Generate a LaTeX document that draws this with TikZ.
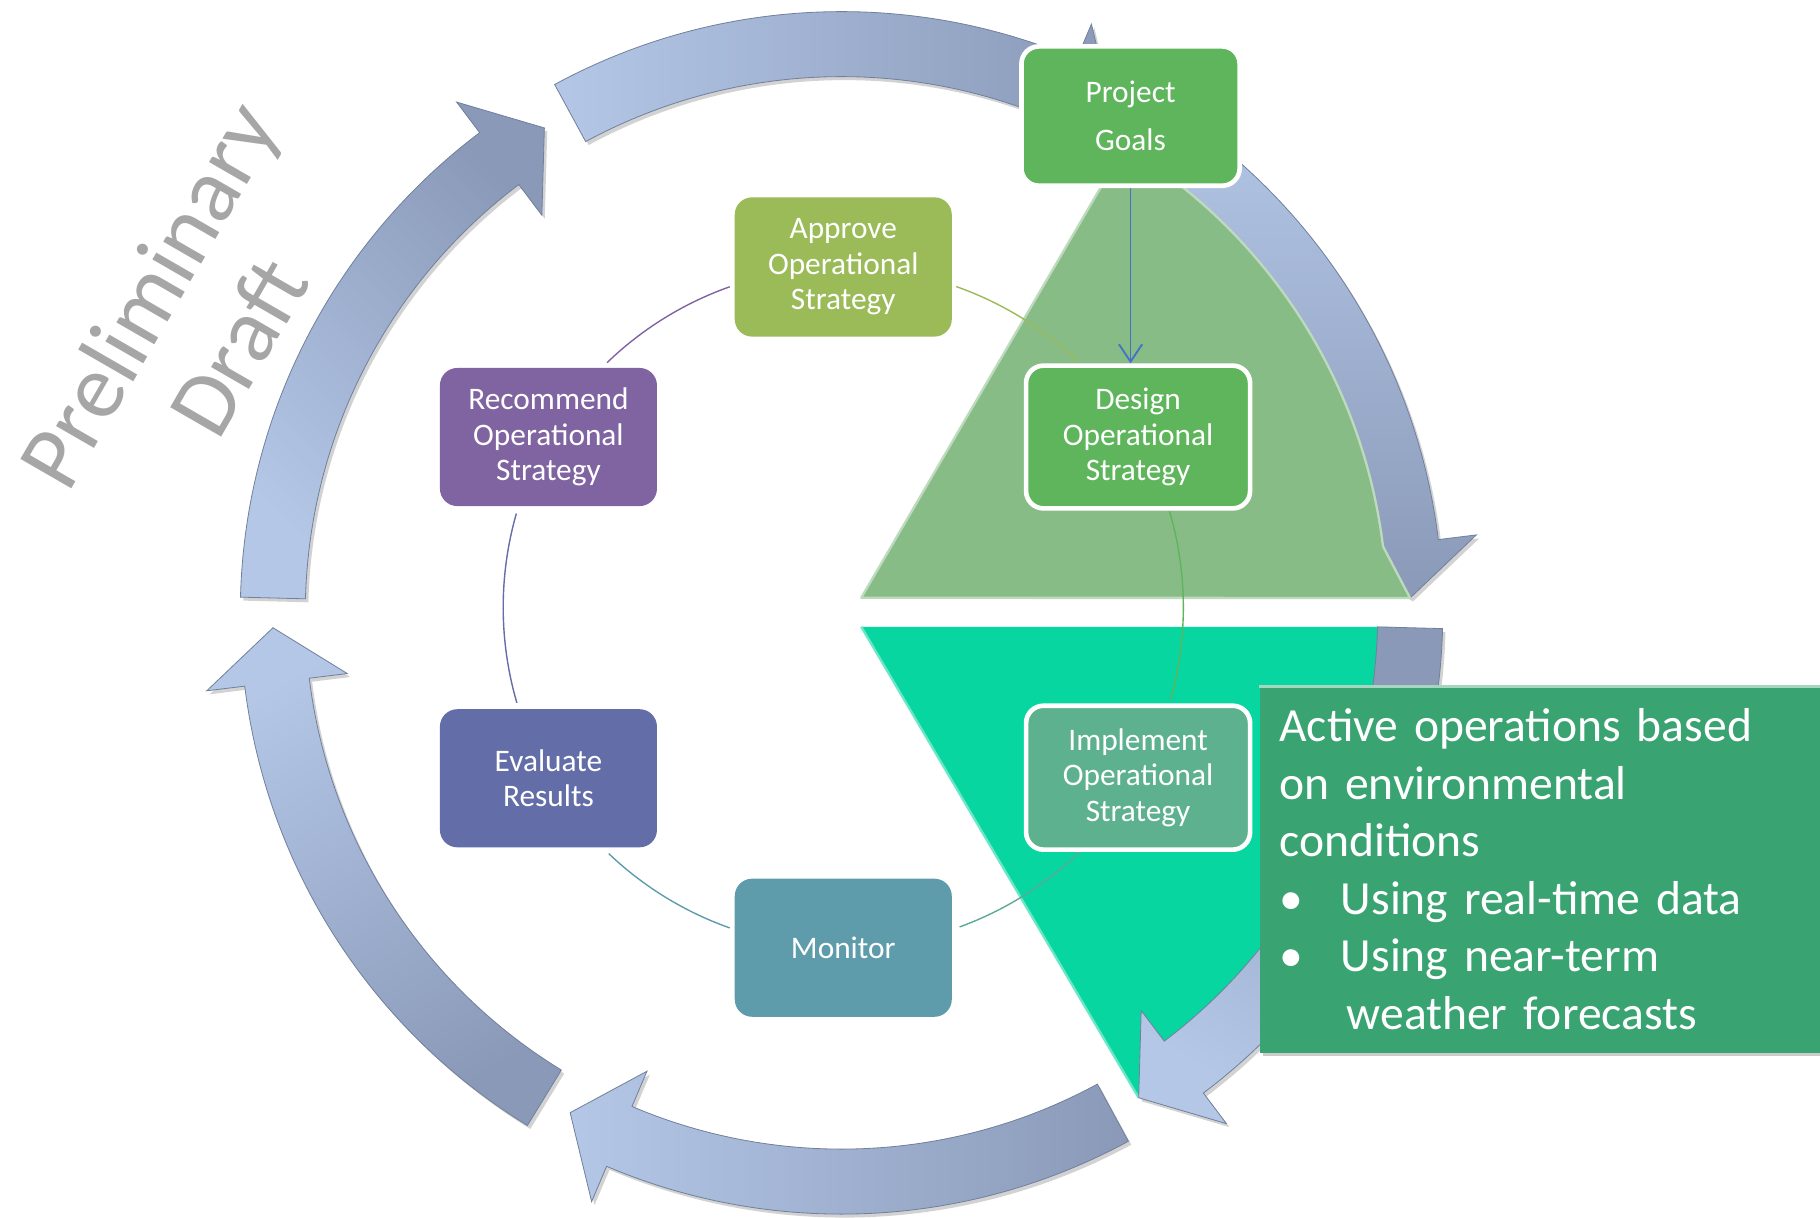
\documentclass[tikz,border=0pt]{standalone}
\usepackage{fontspec}
\setmainfont{Carlito}
\usetikzlibrary{arrows.meta,shadows}
\pgfdeclarelayer{ring}
\pgfdeclarelayer{links}
\pgfsetlayers{ring,links,main}

\definecolor{arrowlight}{HTML}{B4C7E7}
\definecolor{arrowdark}{HTML}{8A99B8}
\definecolor{arrowedge}{HTML}{71809C}
\definecolor{goalgreen}{HTML}{5EB55B}
\definecolor{implgreen}{HTML}{5EB18F}
\definecolor{approvecol}{HTML}{9BBB59}
\definecolor{recommendcol}{HTML}{8064A2}
\definecolor{evalcol}{HTML}{636EA9}
\definecolor{monitorcol}{HTML}{5E9CAC}
\definecolor{impllink}{HTML}{5BAA98}
\definecolor{trigreen}{HTML}{87BC87}
\definecolor{triteal}{HTML}{07D6A0}
\definecolor{notegreen}{HTML}{3AA372}
\definecolor{draftgray}{HTML}{A6A6A6}
\definecolor{goalline}{HTML}{4472C4}

\newcommand{\RingArrow}[3]{%
  \pgfmathsetmacro{\hbase}{#2+5.5}%
  \path[ringarrow,#3] (#1:462pt) arc[start angle=#1, end angle=\hbase, radius=462pt]
    -- (\hbase:429pt) -- (#2:490pt) -- (\hbase:551pt) -- (\hbase:518pt)
    arc[start angle=\hbase, end angle=#1, radius=518pt] -- cycle;%
}

\begin{document}
\begin{tikzpicture}[x=1pt,y=1pt,
  box/.style={rounded corners=15pt, text=white, align=center,
    font=\fontsize{27}{30.5}\selectfont, inner sep=0pt},
  wbox/.style={box, draw=white, line width=4pt},
  ringarrow/.style={top color=arrowdark, bottom color=arrowlight,
    draw=arrowedge, line width=0.7pt,
    drop shadow={shadow xshift=2.5pt, shadow yshift=-3pt, opacity=0.35}},
  link/.style={line width=1.2pt},
  notebox/.style={fill=notegreen, text=white, align=left,
    font=\fontsize{41}{49.5}\selectfont,
    drop shadow={shadow xshift=3pt, shadow yshift=-3pt, opacity=0.4}}]

\useasboundingbox (0,0) rectangle (1568,-1049);

% watermark
\node[rotate=60, text=draftgray, align=center,
  font=\fontsize{79}{90}\selectfont] (draft) at (166,-276) {Preliminary\\Draft};

% process boxes
\node[wbox, fill=goalgreen, minimum width=188pt, minimum height=120pt,
  font=\fontsize{27}{41}\selectfont] (goals) at (974,-100) {Project\\Goals};
\node[wbox, fill=goalgreen, minimum width=193pt, minimum height=123pt]
  (design) at (980.5,-376.5) {Design\\Operational\\Strategy};
\node[wbox, fill=implgreen, minimum width=193pt, minimum height=124pt]
  (implement) at (980.5,-670) {Implement\\Operational\\Strategy};
\node[box, fill=approvecol, minimum width=187pt, minimum height=120pt]
  (approve) at (726.5,-230) {Approve\\Operational\\Strategy};
\node[box, fill=recommendcol, minimum width=187pt, minimum height=119pt]
  (recommend) at (472.5,-376.5) {Recommend\\Operational\\Strategy};
\node[box, fill=evalcol, minimum width=187pt, minimum height=119pt]
  (evaluate) at (472.5,-670.5) {Evaluate\\Results};
\node[box, fill=monitorcol, minimum width=187pt, minimum height=119pt]
  (monitor) at (726.5,-816.5) {Monitor};

% note box
\node[notebox, anchor=north west, text width=449pt, inner xsep=17pt,
  inner ysep=0pt, minimum height=317pt] (note) at (1085,-590)
  {Active operations based\\on environmental\\conditions\\
   \makebox[53pt][l]{•}Using real-time data\\
   \makebox[53pt][l]{•}Using near-term\\
   \hspace*{58pt}weather forecasts};
\draw[notegreen!45!white, line width=2.5pt]
  ([yshift=-1.3pt]note.north west) -- ([yshift=-1.3pt]note.north east);

% connectors: arcs of the circle through the box centres
\coordinate (hub) at (726.5,-523.25);
\coordinate (appout) at ([shift={(70.6:293pt)}]hub);
\coordinate (desout) at ([shift={(16.4:293pt)}]hub);
\coordinate (impout) at ([shift={(-46:293pt)}]hub);
\coordinate (monout) at ([shift={(-109.5:293pt)}]hub);
\coordinate (evaout) at ([shift={(-163.7:293pt)}]hub);
\coordinate (recout) at ([shift={(134:293pt)}]hub);
\begin{pgfonlayer}{links}
  \draw[link, approvecol] (appout) arc[start angle=70.6, end angle=46.5, radius=293pt];
  \draw[link, goalgreen] (desout) arc[start angle=16.4, end angle=-15.7, radius=293pt];
  \draw[link, impllink] (impout) arc[start angle=-46, end angle=-70, radius=293pt];
  \draw[link, monitorcol] (monout) arc[start angle=-109.5, end angle=-133.6, radius=293pt];
  \draw[link, evalcol] (evaout) arc[start angle=-163.7, end angle=-196, radius=293pt];
  \draw[link, recommendcol] (recout) arc[start angle=134, end angle=109.5, radius=293pt];
  \draw[goalline, line width=1.6pt, -{Straight Barb[length=15pt,width=20pt]}]
    (goals.south) -- (goals.south |- design.north);
\end{pgfonlayer}

% ring, triangles
\begin{pgfonlayer}{ring}
\fill[white] (0,0) rectangle (1568,-1049);
\begin{scope}[shift={(725,-528)}]
  % teal wedge (under the ring)
  \fill[triteal] (17,-12) -- (-1.45:475pt)
    arc[start angle=-1.45, end angle=-53, radius=475pt]
    -- (-58.5:490pt) -- cycle;
  \draw[triteal!60!white, line width=2pt] (17,-12) -- (-58.5:490pt);
  % ring of arrows
  \RingArrow{178.5}{121.5}{shading angle=-45}
  \RingArrow{118.5}{61.5}{shading angle=-90}
  \RingArrow{58.5}{1.5}{shading angle=-180}
  \RingArrow{-1.5}{-58.5}{shading angle=-30}
  \RingArrow{-61.5}{-118.5}{shading angle=-90}
  \RingArrow{-121.5}{-178.5}{shading angle=-150}
  % green wedge (over the ring)
  \path[fill=trigreen, draw=trigreen!55!white, line width=2pt, line join=round]
    (17,13) -- (230,378) -- (53.9:470pt)
    arc[start angle=53.9, end angle=7, radius=470pt]
    -- (1.5:490pt) -- cycle;
\end{scope}
\end{pgfonlayer}
\end{tikzpicture}
\end{document}
